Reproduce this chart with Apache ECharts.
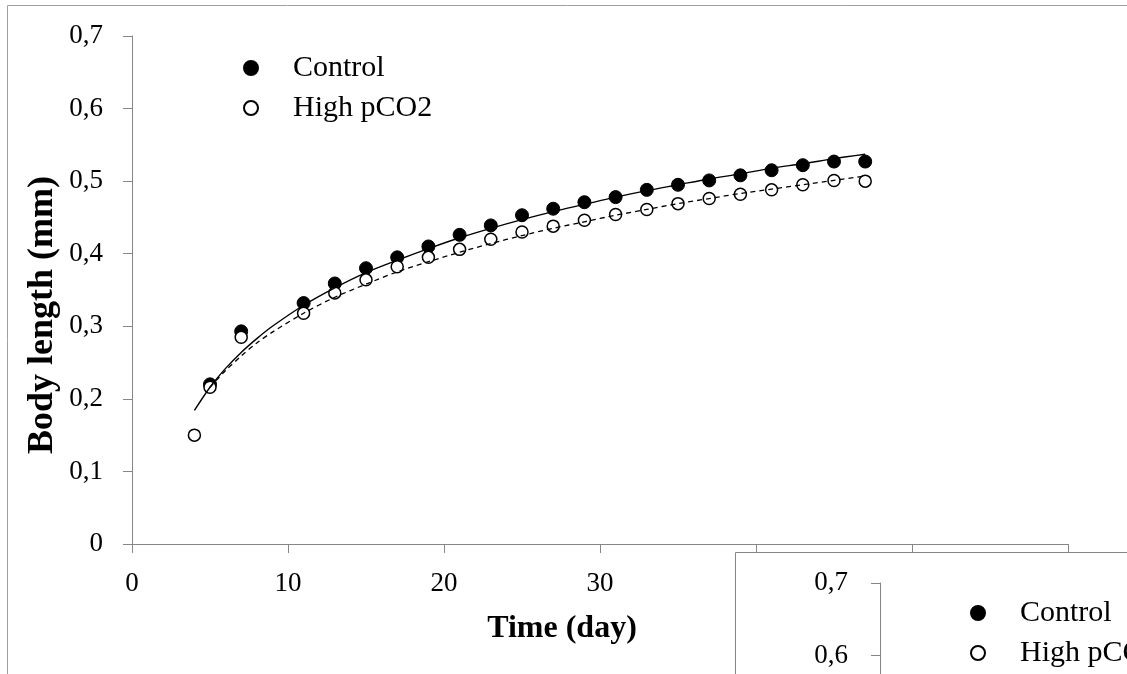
<!DOCTYPE html>
<html>
<head>
<meta charset="utf-8">
<script src="https://cdn.jsdelivr.net/npm/echarts@6/dist/echarts.min.js"></script>
<style>
  html, body { margin: 0; padding: 0; background: #fff; }
  #chart { width: 1127px; height: 674px; }
</style>
</head>
<body>
<div id="chart"></div>
<script>
// ---- data ----
const controlDays = [5, 7, 11, 13, 15, 17, 19, 21, 23, 25, 27, 29, 31, 33, 35, 37, 39, 41, 43, 45, 47];
const controlLength = [0.220, 0.293, 0.332, 0.359, 0.380, 0.395, 0.410, 0.426, 0.439, 0.453, 0.462, 0.471, 0.478, 0.488, 0.495, 0.501, 0.508, 0.515, 0.522, 0.527, 0.527];

const highDays = [4, 5, 7, 11, 13, 15, 17, 19, 21, 23, 25, 27, 29, 31, 33, 35, 37, 39, 41, 43, 45, 47];
const highLength = [0.150, 0.216, 0.285, 0.318, 0.346, 0.364, 0.382, 0.395, 0.406, 0.420, 0.430, 0.438, 0.446, 0.454, 0.461, 0.469, 0.476, 0.482, 0.488, 0.495, 0.501, 0.500];

// trend curves
const controlFitDays = [4, 5, 6, 7, 8, 9, 11, 13, 15, 17, 19, 21, 23, 25, 27, 29, 31, 33, 35, 37, 39, 41, 43, 45, 47];
const controlFit = [0.184, 0.216, 0.242, 0.264, 0.283, 0.300, 0.329, 0.353, 0.374, 0.391, 0.407, 0.422, 0.435, 0.447, 0.458, 0.468, 0.478, 0.487, 0.495, 0.503, 0.510, 0.518, 0.524, 0.531, 0.537];
const highFitDays = [5, 6, 7, 8, 9, 11, 13, 15, 17, 19, 21, 23, 25, 27, 29, 31, 33, 35, 37, 39, 41, 43, 45, 47];
const highFit = [0.216, 0.239, 0.259, 0.277, 0.292, 0.318, 0.340, 0.358, 0.375, 0.389, 0.402, 0.414, 0.425, 0.435, 0.444, 0.453, 0.461, 0.469, 0.476, 0.483, 0.489, 0.495, 0.501, 0.507];

const seriesNames = ['Control', 'High pCO2'];
const xAxisTitle = 'Time (day)';
const yAxisTitle = 'Body length (mm)';

const pair = (xs, ys) => xs.map((x, i) => [x, ys[i]]);
const FONT = '"Liberation Serif", "Times New Roman", serif';
const AXIS_GREY = '#868686';
const yFmt = v => (v === 0 ? '0' : v.toFixed(1).replace('.', ','));

const legendBase = {
  orient: 'vertical', icon: 'circle', itemWidth: 74, itemHeight: 14, itemGap: 10,
  textStyle: { fontSize: 30, fontFamily: FONT, color: '#000' },
  selectedMode: false, height: 120
};

const chart = echarts.init(document.getElementById('chart'));
chart.setOption({
  backgroundColor: '#fff',
  animation: false,
  textStyle: { fontFamily: FONT, color: '#000' },
  grid: [
    { left: 132, top: 36, width: 936, height: 508 },
    { left: 880, top: 583, width: 300, height: 508, outerBoundsMode: 'none' }
  ],
  xAxis: [
    {
      type: 'value', gridIndex: 0, min: 0, max: 60, interval: 10,
      splitLine: { show: false },
      axisLine: { lineStyle: { color: AXIS_GREY, width: 1 } },
      axisTick: { inside: false, length: 9, lineStyle: { color: AXIS_GREY } },
      axisLabel: { fontSize: 27, fontFamily: FONT, color: '#000', margin: 26 },
      name: xAxisTitle, nameLocation: 'middle', nameGap: 69, nameMoveOverlap: false,
      nameTextStyle: { fontSize: 32, fontWeight: 'bold', fontFamily: FONT, color: '#000', padding: [0, 76, 0, 0] }
    },
    { type: 'value', gridIndex: 1, min: 0, max: 60, show: false }
  ],
  yAxis: [
    {
      type: 'value', gridIndex: 0, min: 0, max: 0.7, interval: 0.1,
      splitLine: { show: false },
      axisLine: { show: true, lineStyle: { color: AXIS_GREY, width: 1 } },
      axisTick: { show: true, inside: false, length: 9, lineStyle: { color: AXIS_GREY } },
      axisLabel: { fontSize: 27, fontFamily: FONT, color: '#000', margin: 29, formatter: yFmt },
      name: yAxisTitle, nameLocation: 'middle', nameGap: 71, nameRotate: 90, nameMoveOverlap: false,
      nameTextStyle: { fontSize: 36, fontWeight: 'bold', fontFamily: FONT, color: '#000', padding: [0, 50, 0, 0] }
    },
    {
      type: 'value', gridIndex: 1, min: 0, max: 0.7, interval: 0.1, z: 10,
      splitLine: { show: false },
      axisLine: { show: true, lineStyle: { color: AXIS_GREY, width: 1 } },
      axisTick: { show: true, inside: false, length: 9, lineStyle: { color: AXIS_GREY } },
      axisLabel: { fontSize: 27, fontFamily: FONT, color: '#000', margin: 32, formatter: yFmt }
    }
  ],
  legend: [
    Object.assign({}, legendBase, { data: seriesNames, left: 238, top: 48 }),
    Object.assign({}, legendBase, { data: [seriesNames[0]], left: 965, top: 593, z: 10 }),
    Object.assign({}, legendBase, { data: [seriesNames[1]], left: 965, top: 633, z: 10 })
  ],
  graphic: [
    {
      type: 'rect', z: 0, silent: true,
      shape: { x: 7.5, y: 5.5, width: 1400, height: 900 },
      style: { fill: 'none', stroke: '#a0a0a0', lineWidth: 1 }
    },
    {
      type: 'rect', z: 5, silent: true,
      shape: { x: 735.5, y: 552.5, width: 600, height: 300 },
      style: { fill: '#fff', stroke: AXIS_GREY, lineWidth: 1 }
    }
  ],
  series: [
    {
      name: seriesNames[0], type: 'scatter', xAxisIndex: 0, yAxisIndex: 0,
      symbol: 'circle', symbolSize: 13,
      itemStyle: { color: '#000', borderColor: '#000', borderWidth: 1, opacity: 1 },
      data: pair(controlDays, controlLength)
    },
    {
      name: seriesNames[1], type: 'scatter', xAxisIndex: 0, yAxisIndex: 0,
      symbol: 'circle', symbolSize: 12,
      itemStyle: { color: '#fff', borderColor: '#000', borderWidth: 1.5, opacity: 1 },
      data: pair(highDays, highLength)
    },
    {
      name: 'Control fit', type: 'line', xAxisIndex: 0, yAxisIndex: 0,
      showSymbol: false, symbol: 'none', smooth: 0.3, z: 3,
      lineStyle: { color: '#000', width: 1.4, type: 'solid' },
      data: pair(controlFitDays, controlFit)
    },
    {
      name: 'High pCO2 fit', type: 'line', xAxisIndex: 0, yAxisIndex: 0,
      showSymbol: false, symbol: 'none', smooth: 0.3, z: 3,
      lineStyle: { color: '#000', width: 1.3, type: [5, 4] },
      data: pair(highFitDays, highFit)
    }
  ]
});
</script>
</body>
</html>
